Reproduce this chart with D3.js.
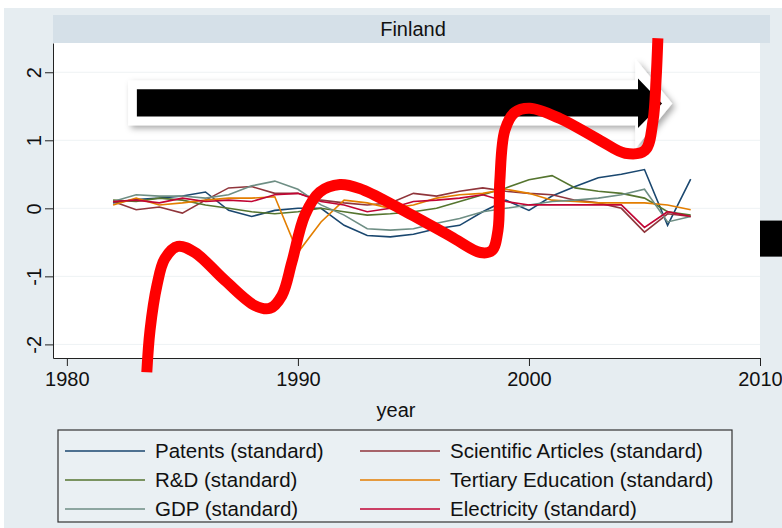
<!DOCTYPE html>
<html>
<head>
<meta charset="utf-8">
<script src="https://cdn.jsdelivr.net/npm/d3@7"></script>
<style>
  html, body { margin: 0; padding: 0; background: #ffffff; }
  svg { display: block; font-family: "Liberation Sans", Arial, sans-serif; }
</style>
</head>
<body>
<svg id="chart" width="782" height="528"></svg>
<script>
// years and standardized series
const years = d3.range(1982, 2008);
const patents   = [0.08, 0.13, 0.15, 0.18, 0.24, -0.03, -0.12, -0.03, 0.0, 0.0, -0.25, -0.40, -0.42, -0.38, -0.30, -0.25, -0.05, 0.12, -0.03, 0.18, 0.32, 0.45, 0.50, 0.57, -0.25, 0.43];
const sciArticles = [0.10, -0.02, 0.02, -0.07, 0.12, 0.30, 0.32, 0.22, 0.22, 0.12, 0.08, 0.05, 0.08, 0.22, 0.18, 0.25, 0.30, 0.25, 0.22, 0.20, 0.12, 0.08, 0.00, -0.35, -0.08, -0.12];
const rnd       = [0.12, 0.10, 0.15, 0.12, 0.05, 0.00, -0.05, -0.08, -0.05, 0.00, -0.05, -0.10, -0.08, -0.05, 0.00, 0.10, 0.20, 0.30, 0.42, 0.48, 0.30, 0.25, 0.22, 0.15, -0.05, -0.10];
const tertiary  = [0.05, 0.15, 0.05, 0.08, 0.12, 0.15, 0.15, 0.17, -0.65, -0.20, 0.12, 0.08, 0.00, 0.05, 0.15, 0.20, 0.22, 0.28, 0.22, 0.12, 0.10, 0.08, 0.08, 0.08, 0.05, -0.02];
const gdp       = [0.10, 0.20, 0.18, 0.18, 0.15, 0.20, 0.33, 0.40, 0.28, 0.05, -0.10, -0.30, -0.32, -0.30, -0.22, -0.15, -0.05, 0.00, 0.05, 0.10, 0.12, 0.15, 0.20, 0.28, -0.20, -0.12];
const electricity = [0.10, 0.12, 0.08, 0.15, 0.10, 0.12, 0.10, 0.20, 0.22, 0.10, 0.05, -0.05, 0.00, 0.10, 0.12, 0.15, 0.20, 0.10, 0.05, 0.05, 0.05, 0.05, 0.05, -0.28, -0.05, -0.12];

const seriesNames = ["Patents (standard)", "Scientific Articles (standard)", "R&D (standard)",
                     "Tertiary Education (standard)", "GDP (standard)", "Electricity (standard)"];
const seriesColors = ["#1a476f", "#90353b", "#55752f", "#e37e00", "#6e8e84", "#c10534"];
const seriesValues = [patents, sciArticles, rnd, tertiary, gdp, electricity];

const xTicks = [1980, 1990, 2000, 2010];
const yTicks = [-2, -1, 0, 1, 2];

// hand-drawn annotations, in (year, value) units
const squiggle = [[1983.46, -2.41], [1983.6, -1.79], [1983.9, -1.13], [1984.24, -0.74], [1984.8, -0.56],
  [1985.54, -0.65], [1986.84, -1.06], [1988.14, -1.43], [1988.79, -1.47], [1989.31, -1.28],
  [1989.74, -0.79], [1990.3, -0.10], [1990.95, 0.24], [1991.82, 0.35], [1992.68, 0.29],
  [1994.4, 0.0], [1996.6, -0.41], [1997.9, -0.65], [1998.4, -0.62], [1998.66, -0.32],
  [1998.74, 0.41], [1998.96, 1.15], [1999.39, 1.41], [2000.04, 1.47], [2001.34, 1.32],
  [2003.07, 1.0], [2004.16, 0.81], [2005.02, 0.85], [2005.37, 1.29], [2005.5, 1.88], [2005.58, 2.5]];
const whiteArrow = [[1982.65, 1.88], [2004.6, 1.88], [2004.6, 2.2], [2006.2, 1.54], [2004.6, 0.88], [2004.6, 1.22], [1982.65, 1.22]];
const blackArrow = [[1983.03, 1.75], [2004.72, 1.75], [2004.72, 1.91], [2005.76, 1.54], [2004.72, 1.18], [2004.72, 1.35], [1983.03, 1.35]];
const blackBox = [[2010, -0.18], [2011, -0.71]];

const svg = d3.select('#chart');
const W = 782, H = 528;
const plot = { left: 53, right: 760, top: 43, bottom: 358 };

svg.append('rect').attr('x', 4).attr('y', 8).attr('width', W - 4).attr('height', H - 8).attr('fill', '#e6edf1');
// title band
svg.append('rect').attr('x', 53).attr('y', 15).attr('width', 717).attr('height', 28).attr('fill', '#d5e0e8');
svg.append('text').attr('x', 413).attr('y', 36).attr('text-anchor', 'middle')
  .attr('font-size', 20).attr('fill', '#111').text('Finland');

svg.append('rect').attr('x', plot.left).attr('y', plot.top)
  .attr('width', plot.right - plot.left).attr('height', plot.bottom - plot.top).attr('fill', '#ffffff');

const x = d3.scaleLinear().domain([1979.4, 2010]).range([plot.left, plot.right]);
const y = d3.scaleLinear().domain([-2.2, 2.43]).range([plot.bottom, plot.top]);

// faint grid
svg.append('g').selectAll('line').data(yTicks).join('line')
  .attr('x1', plot.left).attr('x2', plot.right)
  .attr('y1', d => y(d)).attr('y2', d => y(d))
  .attr('stroke', '#eef2f4').attr('stroke-width', 1);

const yAxis = svg.append('g').attr('transform', `translate(${plot.left},0)`)
  .call(d3.axisLeft(y).tickValues(yTicks).tickFormat(d => String(d)).tickSize(8).tickPadding(6).tickSizeOuter(0));
yAxis.selectAll('text').attr('font-size', 20).attr('fill', '#111')
  .attr('text-anchor', 'middle').attr('x', 0).attr('y', 0).attr('dy', '0.35em')
  .attr('transform', 'translate(-19,0) rotate(-90)');

const xAxis = svg.append('g').attr('transform', `translate(0,${plot.bottom})`)
  .call(d3.axisBottom(x).tickValues(xTicks).tickFormat(d3.format('d')).tickSize(8).tickPadding(6).tickSizeOuter(0));
xAxis.selectAll('text').attr('font-size', 20).attr('fill', '#111');
svg.selectAll('.domain').attr('stroke', '#222');
svg.selectAll('.tick line').attr('stroke', '#222');

svg.append('text').attr('x', 396).attr('y', 417).attr('text-anchor', 'middle')
  .attr('font-size', 20).attr('fill', '#111').text('year');

// series lines
const line = d3.line().x((d, i) => x(years[i])).y(d => y(d));
svg.append('g').selectAll('path').data(seriesValues).join('path')
  .attr('d', d => line(d)).attr('fill', 'none')
  .attr('stroke', (d, i) => seriesColors[i]).attr('stroke-width', 1.6);

// legend
const leg = svg.append('g');
leg.append('rect').attr('x', 58).attr('y', 430).attr('width', 674).attr('height', 92)
  .attr('fill', '#eaf0f3').attr('stroke', '#333').attr('stroke-width', 1.2);
const legItems = leg.selectAll('g.item').data(seriesNames).join('g').attr('class', 'item')
  .attr('transform', (d, i) => `translate(${i % 2 ? 360 : 65},${451 + Math.floor(i / 2) * 29})`);
legItems.append('line').attr('x1', 0).attr('x2', 80).attr('y1', 0).attr('y2', 0)
  .attr('stroke', (d, i) => seriesColors[i]).attr('stroke-width', 1.6);
legItems.append('text').attr('x', 90).attr('y', 0).attr('dy', '0.35em')
  .attr('font-size', 20.5).attr('fill', '#111').text(d => d);

// annotations: white arrow with shadow, black arrow, red squiggle, black box
const defs = svg.append('defs');
const f = defs.append('filter').attr('id', 'shadow').attr('x', '-10%').attr('y', '-50%').attr('width', '120%').attr('height', '200%');
f.append('feDropShadow').attr('dx', 3).attr('dy', 3).attr('stdDeviation', 3).attr('flood-color', '#000').attr('flood-opacity', 0.35);

const poly = d3.line().x(d => x(d[0])).y(d => y(d[1]));
svg.append('path').attr('d', poly(whiteArrow) + 'Z').attr('fill', '#ffffff').attr('filter', 'url(#shadow)');
svg.append('path').attr('d', poly(blackArrow) + 'Z').attr('fill', '#000000');

svg.append('path').attr('d', d3.line().x(d => x(d[0])).y(d => y(d[1])).curve(d3.curveCatmullRom)(squiggle))
  .attr('fill', 'none').attr('stroke', '#ff0000').attr('stroke-width', 11)
  .attr('stroke-linecap', 'butt').attr('stroke-linejoin', 'round');

svg.append('rect').attr('x', x(blackBox[0][0])).attr('y', y(blackBox[0][1]))
  .attr('width', x(blackBox[1][0]) - x(blackBox[0][0])).attr('height', y(blackBox[1][1]) - y(blackBox[0][1]))
  .attr('fill', '#000');
</script>
</body>
</html>
